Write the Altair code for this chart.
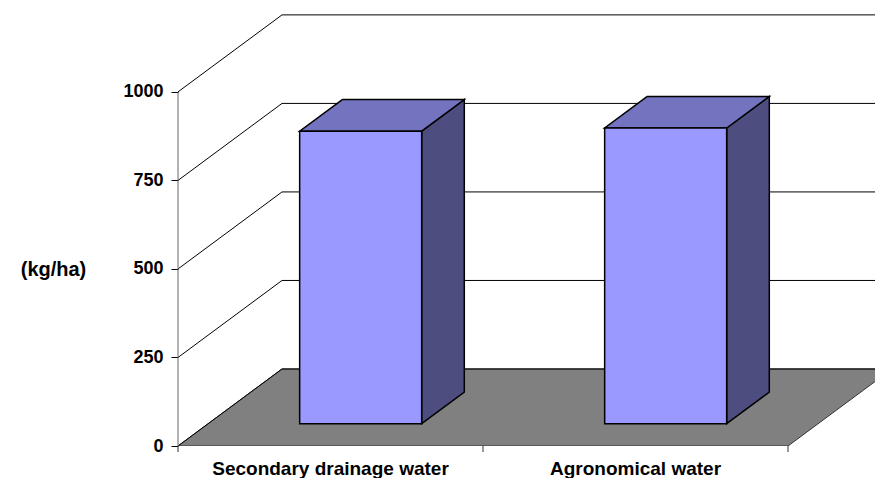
import altair as alt
import pandas as pd

# ---- data ----
categories = ["Secondary drainage water", "Agronomical water"]
values = [826, 835]
y_ticks = [0, 250, 500, 750, 1000]
y_title = "(kg/ha)"

# ---- geometry / style constants ----
X_MAX = 697          # plot width in x units (1 unit = 1 px)
Y_MAX = 1220         # y domain top (value units)
BAND = 305           # width of one category band on the front plane
BAR_FRAC = 0.40      # bar width as share of band
DEPTH_DX = 104       # oblique depth offset, x units
DEPTH_DY = 217.5     # oblique depth offset, value units
BAR_FRONT = 0.29     # bar front plane as share of depth
BAR_BACK = 0.70      # bar back plane as share of depth
FONT = "Liberation Sans"

C_FRONT = "#9999FF"
C_TOP = "#7373BF"
C_SIDE = "#4D4D80"
C_FLOOR = "#808080"

n = len(categories)
floor_w = n * BAND

xs = alt.Scale(domain=[0, X_MAX], nice=False, zero=False)
ys = alt.Scale(domain=[0, Y_MAX], nice=False, zero=False)
yaxis = alt.Axis(
    values=y_ticks, format="d", domain=False, grid=False, ticks=True, tickSize=7,
    tickColor="black", tickWidth=1, labelFont=FONT, labelFontWeight="bold",
    labelFontSize=18, labelColor="black", labelPadding=8,
    title=y_title, titleAngle=0, titleFont=FONT, titleFontWeight="bold",
    titleFontSize=20, titleColor="black", titleX=-125, titleY=255,
    titleAlign="center", titleBaseline="middle",
)


def X(f):
    return alt.X(f"{f}:Q", scale=xs, axis=None)


def Y(f):
    return alt.Y(f"{f}:Q", scale=ys, axis=yaxis)


# floor parallelogram
floor_df = pd.DataFrame({
    "y": [0, DEPTH_DY],
    "x": [0, DEPTH_DX],
    "x2": [floor_w, floor_w + DEPTH_DX],
})

# wall lines (left-wall diagonal + back-wall gridline) for every tick
wall_rows = []
for v in y_ticks:
    wall_rows += [
        {"g": str(v), "o": 0, "x": 0, "y": v},
        {"g": str(v), "o": 1, "x": DEPTH_DX, "y": v + DEPTH_DY},
        {"g": str(v), "o": 2, "x": floor_w + DEPTH_DX, "y": v + DEPTH_DY},
    ]
wall_df = pd.DataFrame(wall_rows)

# bars
bar_w = BAR_FRAC * BAND
fdx, fdy = BAR_FRONT * DEPTH_DX, BAR_FRONT * DEPTH_DY
ddx, ddy = (BAR_BACK - BAR_FRONT) * DEPTH_DX, (BAR_BACK - BAR_FRONT) * DEPTH_DY
front_rows, top_rows, side_rows = [], [], []
for i, (c, v) in enumerate(zip(categories, values)):
    xl = i * BAND + (BAND - bar_w) / 2 + fdx
    xr = xl + bar_w
    yb = fdy
    yt = fdy + v
    front_rows.append({"c": c, "x": xl, "x2": xr, "y": yb, "y2": yt})
    top_rows += [
        {"c": c, "y": yt, "x": xl, "x2": xr},
        {"c": c, "y": yt + ddy, "x": xl + ddx, "x2": xr + ddx},
    ]
    side_rows += [
        {"c": c, "x": xr, "y": yb, "y2": yt},
        {"c": c, "x": xr + ddx, "y": yb + ddy, "y2": yt + ddy},
    ]
front_df = pd.DataFrame(front_rows)
top_df = pd.DataFrame(top_rows)
side_df = pd.DataFrame(side_rows)

label_df = pd.DataFrame({"c": categories,
                         "x": [i * BAND + BAND / 2 for i in range(n)],
                         "y": [0] * n})
xtick_df = pd.DataFrame({"x": [i * BAND for i in range(n + 1)],
                         "y": [0] * (n + 1), "y2": [-17] * (n + 1)})
axis_df = pd.DataFrame({"x": [0], "y": [0], "y2": [max(y_ticks)]})

floor = alt.Chart(floor_df).mark_area(
    orient="horizontal", color=C_FLOOR, fill=C_FLOOR, stroke="#333333",
    strokeWidth=1, clip=True, opacity=1
).encode(y=Y("y"), x=X("x"), x2="x2:Q")

walls = alt.Chart(wall_df).mark_line(
    color="black", strokeWidth=1, clip=True
).encode(x=X("x"), y=Y("y"), detail="g:N", order="o:Q")

axis_line = alt.Chart(axis_df).mark_rule(color="#666666", strokeWidth=1).encode(
    x=X("x"), y=Y("y"), y2="y2:Q")

xticks = alt.Chart(xtick_df).mark_rule(color="#333333", strokeWidth=1).encode(
    x=X("x"), y=Y("y"), y2="y2:Q")

side = alt.Chart(side_df).mark_area(
    orient="vertical", fill=C_SIDE, color=C_SIDE, stroke="black",
    strokeWidth=1.5, opacity=1
).encode(x=X("x"), y=Y("y"), y2="y2:Q", detail="c:N")

top = alt.Chart(top_df).mark_area(
    orient="horizontal", fill=C_TOP, color=C_TOP, stroke="black",
    strokeWidth=1.5, opacity=1
).encode(y=Y("y"), x=X("x"), x2="x2:Q", detail="c:N")

front = alt.Chart(front_df).mark_rect(
    fill=C_FRONT, stroke="black", strokeWidth=1.5
).encode(x=X("x"), x2="x2:Q", y=Y("y"), y2="y2:Q")

labels = alt.Chart(label_df).mark_text(
    font=FONT, fontWeight="bold", fontSize=19, color="black",
    baseline="alphabetic", align="center", dy=29
).encode(x=X("x"), y=Y("y"), text="c:N")

chart = alt.layer(
    floor, walls, axis_line, xticks, side, top, front, labels
).properties(
    width=X_MAX, height=432,
    padding={"left": 170, "top": 6, "right": 0, "bottom": 32},
    autosize=alt.AutoSizeParams(type="none"),
    background="white",
).configure_view(stroke=None)

chart.save("out.html", embed_options={"renderer": "svg", "actions": False})
